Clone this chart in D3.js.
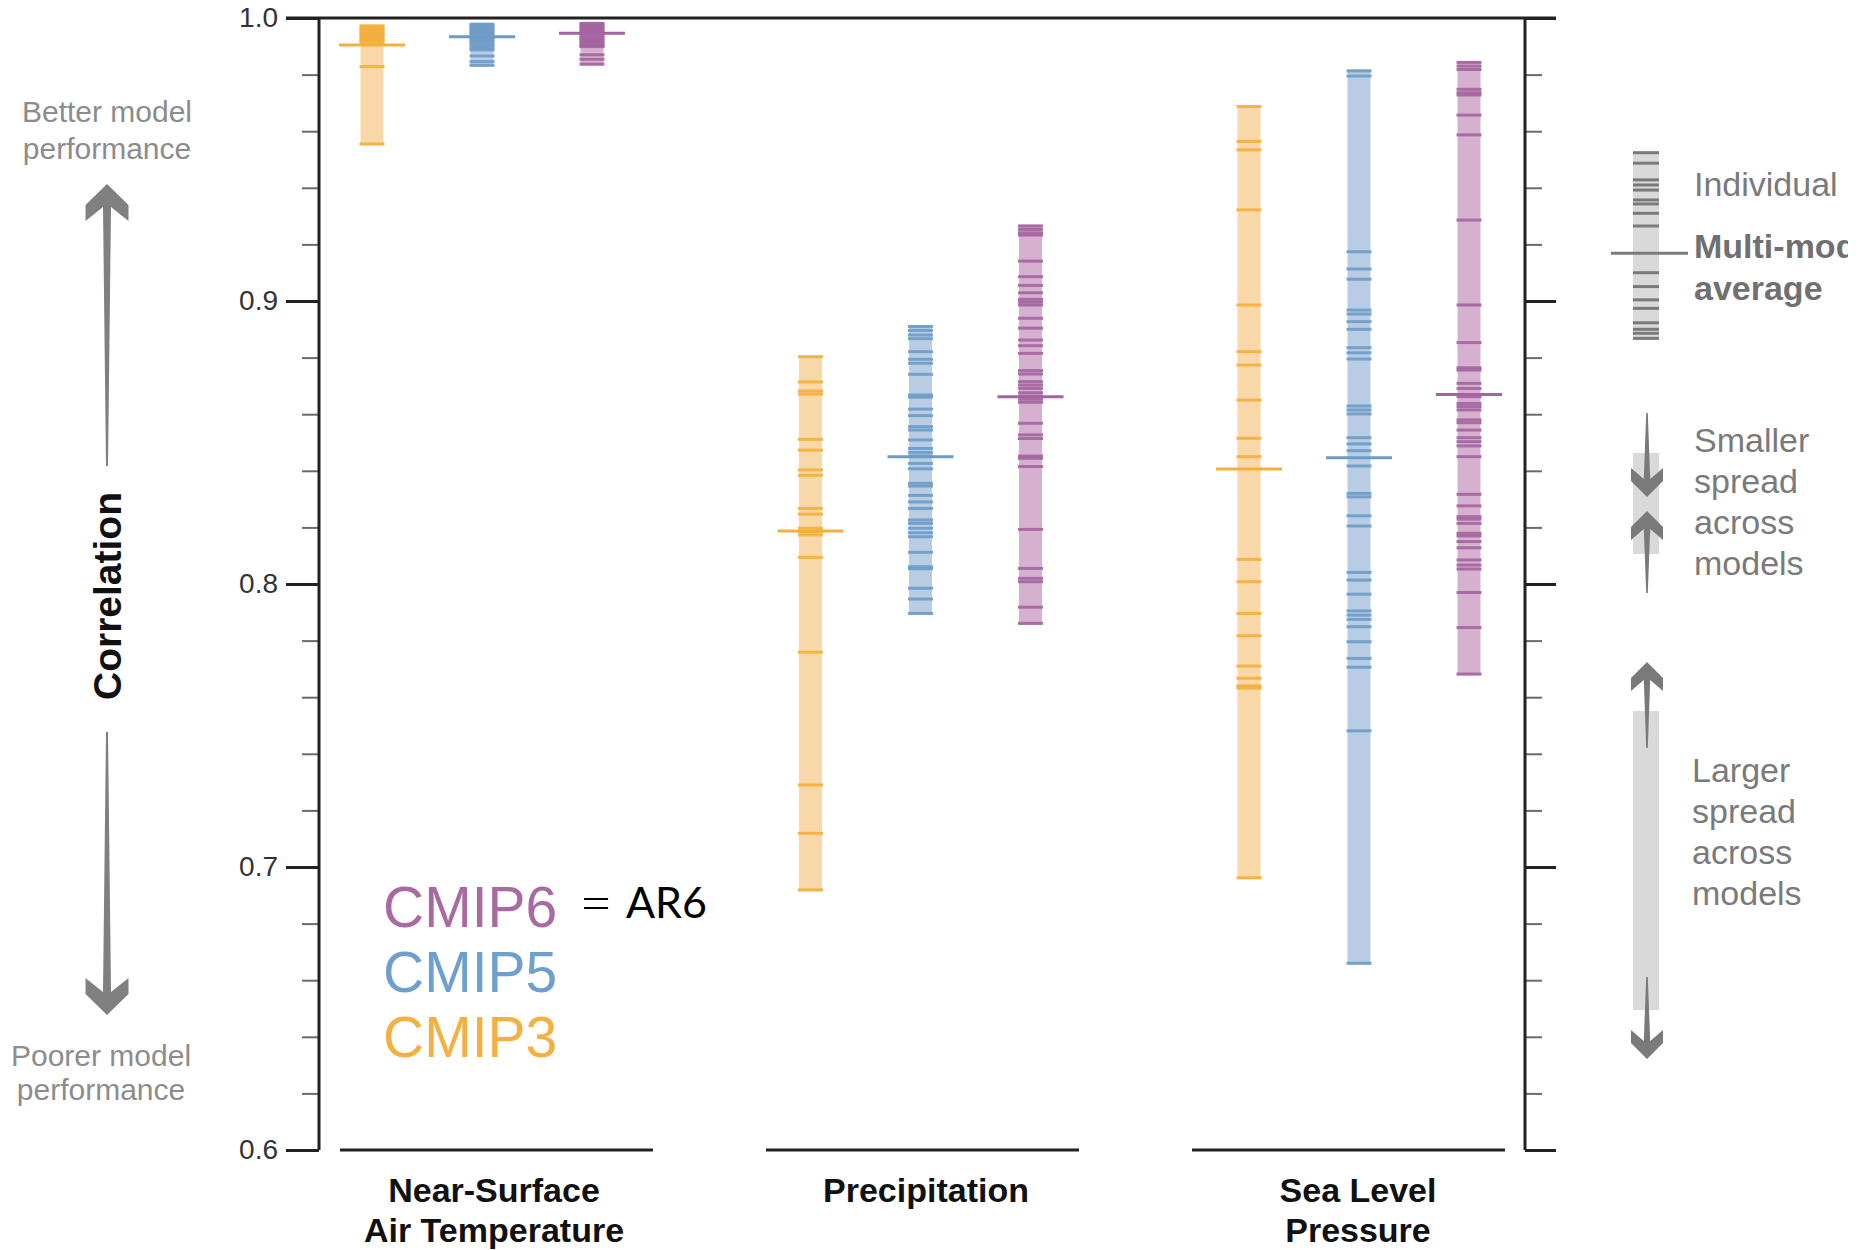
<!DOCTYPE html>
<html>
<head>
<meta charset="utf-8">
<script src="https://cdn.jsdelivr.net/npm/d3@7"></script>
<style>
  html, body { margin: 0; padding: 0; background: #fff; overflow: hidden; }
  svg { display: block; font-family: "Liberation Sans", Arial, Helvetica, sans-serif; }
</style>
</head>
<body>
<svg id="chart" width="1865" height="1250"></svg>
<script>
// ---- Data: pattern correlation of each model with observations ----
const variables = ["tas", "pr", "psl"];
const variableLabels = [["Near-Surface", "Air Temperature"], ["Precipitation"], ["Sea Level", "Pressure"]];
const generations = ["CMIP3", "CMIP5", "CMIP6"];
const legendOrder = ["CMIP6", "CMIP5", "CMIP3"];

// individual models, near-surface air temperature
const cmip3Tas = [0.9972, 0.9966, 0.9960, 0.9954, 0.9948, 0.9942, 0.9936, 0.9930, 0.9924, 0.9918, 0.9912, 0.9828, 0.9555];
const cmip5Tas = [0.9978, 0.9972, 0.9966, 0.9960, 0.9954, 0.9948, 0.9942, 0.9936, 0.9930, 0.9924, 0.9918, 0.9910, 0.9902, 0.9894, 0.9887, 0.9866, 0.9846, 0.9833];
const cmip6Tas = [0.9981, 0.9975, 0.9969, 0.9963, 0.9957, 0.9951, 0.9945, 0.9939, 0.9933, 0.9927, 0.9921, 0.9915, 0.9909, 0.9903, 0.9899, 0.9870, 0.9854, 0.9837];

// individual models, precipitation
const cmip3Pr = [0.8803, 0.8714, 0.8682, 0.8671, 0.8511, 0.8473, 0.8403, 0.8384, 0.8267, 0.8247, 0.8197, 0.8185, 0.8173, 0.8094, 0.7759, 0.7290, 0.7119, 0.6919];
const cmip5Pr = [0.8910, 0.8896, 0.8880, 0.8867, 0.8821, 0.8794, 0.8780, 0.8741, 0.8668, 0.8660, 0.8618, 0.8595, 0.8556, 0.8544, 0.8509, 0.8479, 0.8465, 0.8452, 0.8426, 0.8407, 0.8356, 0.8346, 0.8313, 0.8290, 0.8267, 0.8226, 0.8214, 0.8197, 0.8181, 0.8167, 0.8112, 0.8061, 0.8054, 0.7985, 0.7947, 0.7896];
const cmip6Pr = [0.9265, 0.9253, 0.9241, 0.9233, 0.9141, 0.9086, 0.9055, 0.9029, 0.9006, 0.8996, 0.8986, 0.8939, 0.8904, 0.8862, 0.8842, 0.8815, 0.8754, 0.8742, 0.8715, 0.8703, 0.8691, 0.8676, 0.8664, 0.8653, 0.8642, 0.8568, 0.8527, 0.8514, 0.8452, 0.8444, 0.8415, 0.8193, 0.8055, 0.8020, 0.8008, 0.7918, 0.7861];

// individual models, sea level pressure
const cmip3Psl = [0.9687, 0.9564, 0.9534, 0.9322, 0.8986, 0.8821, 0.8774, 0.8650, 0.8515, 0.8450, 0.8087, 0.8008, 0.7896, 0.7817, 0.7710, 0.7667, 0.7640, 0.7632, 0.6962];
const cmip5Psl = [0.9813, 0.9795, 0.9174, 0.9113, 0.9077, 0.8968, 0.8954, 0.8927, 0.8900, 0.8835, 0.8817, 0.8795, 0.8629, 0.8615, 0.8601, 0.8517, 0.8495, 0.8471, 0.8417, 0.8320, 0.8308, 0.8241, 0.8205, 0.8041, 0.8014, 0.7964, 0.7905, 0.7890, 0.7875, 0.7849, 0.7796, 0.7737, 0.7706, 0.7481, 0.6660];
const cmip6Psl = [0.9843, 0.9830, 0.9818, 0.9748, 0.9736, 0.9728, 0.9657, 0.9587, 0.9286, 0.8986, 0.8853, 0.8764, 0.8756, 0.8709, 0.8691, 0.8662, 0.8638, 0.8627, 0.8615, 0.8580, 0.8570, 0.8544, 0.8517, 0.8503, 0.8488, 0.8450, 0.8317, 0.8276, 0.8238, 0.8229, 0.8214, 0.8179, 0.8170, 0.8150, 0.8128, 0.8085, 0.8067, 0.8053, 0.7970, 0.7846, 0.7682];

// multi-model averages, ordered as variables
const cmip3Means = [0.9905, 0.8187, 0.8406];
const cmip5Means = [0.9934, 0.8450, 0.8446];
const cmip6Means = [0.9946, 0.8662, 0.8670];

// axis ticks
const majorTicks = [0.6, 0.7, 0.8, 0.9, 1.0];
const minorTicks = [0.62, 0.64, 0.66, 0.68, 0.72, 0.74, 0.76, 0.78, 0.82, 0.84, 0.86, 0.88, 0.92, 0.94, 0.96, 0.98];

// schematic key: example ensemble on the correlation scale
const keyModelValues = [0.9524, 0.9487, 0.9428, 0.9410, 0.9392, 0.9357, 0.9343, 0.9310, 0.9265, 0.9100, 0.9051, 0.9004, 0.8974, 0.8923, 0.8900, 0.8886, 0.8868];
const keyMeanValue = 0.9169;

// colours per generation (CMIP3, CMIP5, CMIP6)
const tickColors = ["#f3ae3c", "#6d9bc7", "#a3649f"];
const fillColors = ["#f8d8a9", "#b8cde3", "#d5b1cf"];
const labelColors = ["#f4b041", "#6f9fcc", "#a96aa2"];

const modelValues = [[cmip3Tas, cmip3Pr, cmip3Psl], [cmip5Tas, cmip5Pr, cmip5Psl], [cmip6Tas, cmip6Pr, cmip6Psl]];
const modelMeans = [cmip3Means, cmip5Means, cmip6Means];

const ensembles = [];
generations.forEach((g, gi) => variables.forEach((v, vi) => {
  ensembles.push({ gen: g, gi, v, values: modelValues[gi][vi], mean: modelMeans[gi][vi] });
}));

// ---- Layout ----
const svg = d3.select("#chart");
const leftX = 319, rightX = 1525;
const majorLen = 33, minorLen = 17;
const axisColor = "#222", minorColor = "#6b6b6b";
const barW = 23, tickW = 25, meanW = 66;

const y = d3.scaleLinear().domain([0.6, 1.0]).range([1150, 18]);
const xGroup = d3.scalePoint().domain(variables).range([482, 1359]);
const xGen = d3.scalePoint().domain(generations).range([-110, 110]);
const xPanel = d3.scaleBand().domain(variables).range([340, 1505]).paddingInner(0.2653).paddingOuter(0);
const xLabel = d3.scalePoint().domain(variables).range([494, 1358]);

// ---- Axes ----
function styleAxis(g, color, width) {
  g.select(".domain").remove();
  g.selectAll(".tick line").attr("stroke", color).attr("stroke-width", width);
}

const leftMajor = svg.append("g").attr("transform", `translate(${leftX},0)`)
  .call(d3.axisLeft(y).tickValues(majorTicks).tickSize(majorLen).tickPadding(8).tickFormat(d3.format(".1f")));
styleAxis(leftMajor, axisColor, 3);
leftMajor.selectAll(".tick text").attr("font-size", 28).attr("fill", "#333")
  .attr("font-family", "'Liberation Sans', Arial, sans-serif");

const leftMinor = svg.append("g").attr("transform", `translate(${leftX},0)`)
  .call(d3.axisLeft(y).tickValues(minorTicks).tickSize(minorLen).tickFormat(""));
styleAxis(leftMinor, minorColor, 2);

const rightMajor = svg.append("g").attr("transform", `translate(${rightX},0)`)
  .call(d3.axisRight(y).tickValues(majorTicks).tickSize(majorLen - 2).tickFormat(""));
styleAxis(rightMajor, axisColor, 3);

const rightMinor = svg.append("g").attr("transform", `translate(${rightX},0)`)
  .call(d3.axisRight(y).tickValues(minorTicks).tickSize(minorLen).tickFormat(""));
styleAxis(rightMinor, minorColor, 2);

// vertical axis lines and top frame
[leftX, rightX].forEach(x => {
  svg.append("line").attr("x1", x).attr("x2", x).attr("y1", y(1.0)).attr("y2", y(0.6))
    .attr("stroke", axisColor).attr("stroke-width", 3);
});
svg.append("line").attr("x1", leftX - majorLen).attr("x2", rightX + majorLen - 2)
  .attr("y1", y(1.0)).attr("y2", y(1.0)).attr("stroke", axisColor).attr("stroke-width", 3);

// baseline segment under each variable panel
svg.append("g").selectAll("line").data(variables).join("line")
  .attr("x1", d => xPanel(d)).attr("x2", d => xPanel(d) + xPanel.bandwidth())
  .attr("y1", y(0.6)).attr("y2", y(0.6))
  .attr("stroke", axisColor).attr("stroke-width", 3);

// variable names
const catLabels = svg.append("g").selectAll("text").data(variables).join("text")
  .attr("x", d => xLabel(d))
  .attr("y", 1202)
  .attr("text-anchor", "middle").attr("font-size", 34).attr("font-weight", "bold").attr("fill", "#111");
catLabels.each(function(d, i) {
  d3.select(this).selectAll("tspan").data(variableLabels[i]).join("tspan")
    .attr("x", xLabel(d))
    .attr("dy", (t, j) => j === 0 ? 0 : 40)
    .text(t => t);
});

// ---- Ensemble bars ----
const bars = svg.append("g").selectAll("g").data(ensembles).join("g")
  .attr("transform", d => `translate(${xGroup(d.v) + xGen(d.gen)},0)`);

bars.append("rect")
  .attr("x", -barW / 2).attr("width", barW)
  .attr("y", d => y(d3.max(d.values)) - 1.5)
  .attr("height", d => y(d3.min(d.values)) - y(d3.max(d.values)) + 3)
  .attr("fill", d => fillColors[d.gi]);

bars.selectAll("line.model").data(d => d.values.map(v => ({ v, gi: d.gi }))).join("line")
  .attr("class", "model")
  .attr("x1", -tickW / 2).attr("x2", tickW / 2)
  .attr("y1", d => y(d.v)).attr("y2", d => y(d.v))
  .attr("stroke", d => tickColors[d.gi]).attr("stroke-width", 3).attr("stroke-opacity", 0.9);

bars.append("line").attr("class", "mean")
  .attr("x1", -meanW / 2).attr("x2", meanW / 2)
  .attr("y1", d => y(d.mean)).attr("y2", d => y(d.mean))
  .attr("stroke", d => tickColors[d.gi]).attr("stroke-width", 3);

// ---- Generation legend ----
svg.append("g").selectAll("text").data(legendOrder).join("text")
  .attr("x", 383).attr("y", (d, i) => 927 + i * 65)
  .attr("font-size", 57).attr("fill", d => labelColors[generations.indexOf(d)])
  .text(d => d);

svg.append("text").attr("x", 596).attr("y", 923).attr("text-anchor", "middle")
  .attr("font-family", "Lato, 'Open Sans', sans-serif").attr("font-size", 58).attr("font-weight", 300)
  .attr("fill", "#000").text("=");
svg.append("text").attr("x", 626).attr("y", 918)
  .attr("font-family", "Lato, 'Open Sans', sans-serif").attr("font-size", 43).attr("fill", "#000").text("AR6");

// ---- Arrows ----
function arrowPath(cx, tip, tail, s) {
  const dir = tail > tip ? 1 : -1;
  const L = Math.abs(tail - tip);
  const p = (dx, dy) => [cx + dx, tip + dir * dy];
  const pts = [
    p(0, 0), p(s.hw, s.wing), p(s.hw, s.back), p(s.shaft, s.notch),
    p(s.end, L), p(-s.end, L),
    p(-s.shaft, s.notch), p(-s.hw, s.back), p(-s.hw, s.wing)
  ];
  return d3.line()(pts) + "Z";
}
const bigHead = { hw: 21.5, wing: 21, back: 37, notch: 23, shaft: 4, end: 1 };
const smallHead = { hw: 16, wing: 16, back: 29, notch: 18, shaft: 3.2, end: 0.8 };

// performance direction arrows on the left
svg.append("path").attr("d", arrowPath(107, 184, 466, bigHead)).attr("fill", "#808080");
svg.append("path").attr("d", arrowPath(107, 1015, 732, bigHead)).attr("fill", "#808080");

const sideText = svg.append("g").attr("font-size", 30).attr("fill", "#8c8c8c").attr("text-anchor", "middle");
sideText.append("text").attr("x", 107).attr("y", 122).text("Better model");
sideText.append("text").attr("x", 107).attr("y", 159).text("performance");
sideText.append("text").attr("x", 101).attr("y", 1066).text("Poorer model");
sideText.append("text").attr("x", 101).attr("y", 1100).text("performance");

svg.append("text")
  .attr("transform", "translate(121,596) rotate(-90)")
  .attr("text-anchor", "middle").attr("font-size", 39).attr("font-weight", "bold").attr("fill", "#111")
  .text("Correlation");

// ---- Schematic key on the right ----
svg.append("defs").append("clipPath").attr("id", "keyClip")
  .append("rect").attr("x", 1540).attr("y", 0).attr("width", 308).attr("height", 1250);

const keyX = 1646, keyW = 26, keyGrey = "#d9d9d9", keyDark = "#7a7a7a";
const key = svg.append("g").attr("clip-path", "url(#keyClip)");
key.append("rect")
  .attr("x", keyX - keyW / 2).attr("width", keyW)
  .attr("y", y(d3.max(keyModelValues)) - 1.5)
  .attr("height", y(d3.min(keyModelValues)) - y(d3.max(keyModelValues)) + 3)
  .attr("fill", keyGrey);
key.selectAll("line.kt").data(keyModelValues).join("line").attr("class", "kt")
  .attr("x1", keyX - keyW / 2).attr("x2", keyX + keyW / 2)
  .attr("y1", d => y(d)).attr("y2", d => y(d))
  .attr("stroke", keyDark).attr("stroke-width", 3);
key.append("line")
  .attr("x1", keyX - 35).attr("x2", keyX + 42)
  .attr("y1", y(keyMeanValue)).attr("y2", y(keyMeanValue))
  .attr("stroke", keyDark).attr("stroke-width", 3);

// spread boxes
key.append("rect").attr("x", keyX - 13).attr("width", 26).attr("y", 453).attr("height", 101).attr("fill", keyGrey);
key.append("rect").attr("x", keyX - 13).attr("width", 26).attr("y", 711).attr("height", 299).attr("fill", keyGrey);

// smaller spread: arrows pointing inward
key.append("path").attr("d", arrowPath(keyX + 1, 497, 413, smallHead)).attr("fill", keyDark);
key.append("path").attr("d", arrowPath(keyX + 1, 511, 593, smallHead)).attr("fill", keyDark);
// larger spread: arrows pointing outward
key.append("path").attr("d", arrowPath(keyX + 1, 662, 748, smallHead)).attr("fill", keyDark);
key.append("path").attr("d", arrowPath(keyX + 1, 1059, 977, smallHead)).attr("fill", keyDark);

const keyText = key.append("g").attr("font-size", 34).attr("fill", keyDark);
keyText.append("text").attr("x", 1694).attr("y", 196).text("Individual");
keyText.append("text").attr("x", 1694).attr("y", 258).attr("font-weight", "bold").attr("fill", "#707070").text("Multi-model");
keyText.append("text").attr("x", 1694).attr("y", 300).attr("font-weight", "bold").attr("fill", "#707070").text("average");
["Smaller", "spread", "across", "models"].forEach((t, i) => {
  keyText.append("text").attr("x", 1694).attr("y", 452 + i * 41).text(t);
});
["Larger", "spread", "across", "models"].forEach((t, i) => {
  keyText.append("text").attr("x", 1692).attr("y", 782 + i * 41).text(t);
});
</script>
</body>
</html>
